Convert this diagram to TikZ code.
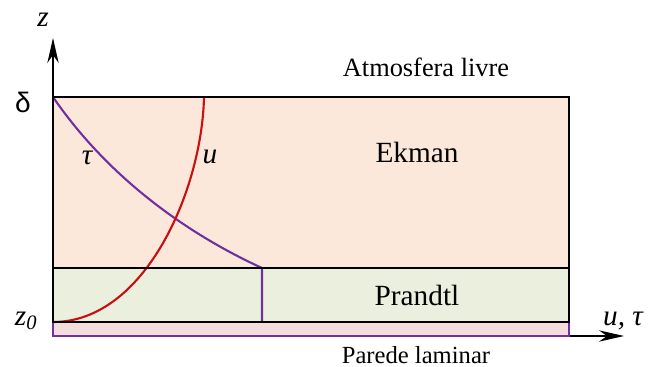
\documentclass[tikz,border=0pt]{standalone}
\usepackage{fontspec}
\setmainfont{Liberation Serif}
\newfontfamily\greeksans{Liberation Sans}
\usetikzlibrary{arrows.meta,calc}

\begin{document}
\begin{tikzpicture}[x=0.03cm, y=-0.03cm,
    layer/.style={draw=black, line width=2.5pt},
    axis/.style={-{Stealth[length=7.5mm, width=3.4mm, inset=2.4mm]}, line width=1.2pt},
    prof/.style={line width=1.8pt},
    lyrtxt/.style={font=\fontsize{25}{28}\selectfont},
    toptxt/.style={font=\fontsize{22.5}{26}\selectfont},
    walltxt/.style={font=\fontsize{21}{24}\selectfont, inner sep=0pt, anchor=base},
    symtxt/.style={font=\fontsize{25}{28}\selectfont\itshape},
  ]
  \definecolor{ekmanfill}{RGB}{252,232,218}
  \definecolor{prandtlfill}{RGB}{234,240,221}
  \definecolor{lamfill}{RGB}{242,220,220}
  \definecolor{lamline}{RGB}{112,48,160}
  \definecolor{ucol}{RGB}{200,16,16}
  \definecolor{taucol}{RGB}{112,48,160}

  \useasboundingbox (0,0) rectangle (648,367);

  % camadas
  \coordinate (top)  at (53,97);
  \coordinate (pr)   at (53,268);
  \coordinate (z0)   at (53,322);
  \coordinate (wall) at (53,336);
  \fill[ekmanfill]   (top) rectangle (569,268);
  \fill[prandtlfill] (pr) rectangle (569,322);
  \fill[lamfill]     (z0) rectangle (569,336);

  % eixos
  \coordinate (ztip) at (53,38);
  \coordinate (xtip) at (624,336);
  \draw[axis] (wall) -- (xtip);
  \draw[axis] (z0) -- (ztip);
  \draw[lamline, line width=1pt] (z0) -- (wall) -- (569,336) -- (569,322);

  % perfis
  \coordinate (tauend) at (262,268);
  \draw[prof, taucol] (top) .. controls (110,180) and (190,235) .. (tauend) -- (262,322);
  \draw[prof, ucol] (z0) .. controls (145,322) and (202,190) .. (204,97);

  \draw[layer] (top) rectangle (569,322);
  \draw[layer] (pr) -- (569,268);

  \node[toptxt] (atm)  at (426,67)  {Atmosfera livre};
  \node[lyrtxt] (ekm)  at (417,152) {Ekman};
  \node[lyrtxt] (prl)  at (417,295) {Prandtl};
  \node[walltxt] (lam) at (416,363) {Parede laminar};

  \node[symtxt] (zlbl)   at (43,20)   {z};
  \node[font=\fontsize{24}{26}\selectfont\greeksans] (dlbl) at (23,102) {δ};
  \node[symtxt] (z0lbl)  at (26,321)  {z\textsubscript{0}};
  \node[symtxt] (ulbl)   at (210,157) {u};
  \node[symtxt] (taulbl) at (87,158)  {τ};
  \node[symtxt] (xlbl)   at (623,321) {u,\ τ};
\end{tikzpicture}
\end{document}
